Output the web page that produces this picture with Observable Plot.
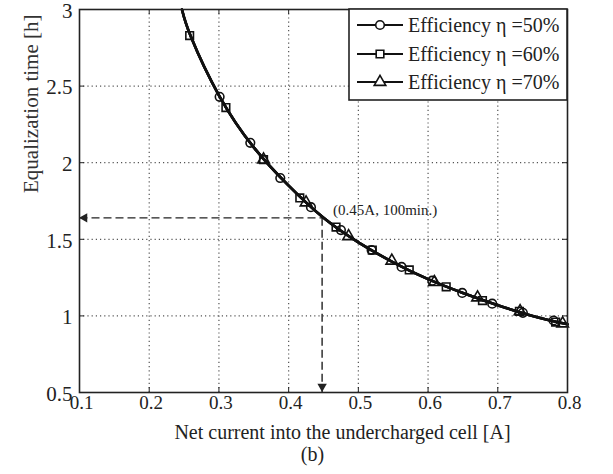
<!DOCTYPE html>
<html><head><meta charset="utf-8">
<script src="https://cdn.jsdelivr.net/npm/d3@7"></script>
<script src="https://cdn.jsdelivr.net/npm/@observablehq/plot@0.6"></script>
<style>
body{margin:0;background:#fff}
svg{font-family:"Liberation Serif","Times New Roman",serif}
</style>
</head><body><div id="chart"></div>
<script>
// ---- data ----
const xTicks = [0.1, 0.2, 0.3, 0.4, 0.5, 0.6, 0.7, 0.8];
const yTicks = [0.5, 1, 1.5, 2, 2.5, 3];
const xGrid = [0.2, 0.3, 0.4, 0.5, 0.6, 0.7];
const yGrid = [1, 1.5, 2, 2.5];
const seriesNames = ["Efficiency \u03b7 =50%", "Efficiency \u03b7 =60%", "Efficiency \u03b7 =70%"];
const seriesSymbols = ["circle", "square", "triangle"];

// curve (all three coincide)
const curveI = [0.247, 0.26, 0.30, 0.35, 0.40, 0.45, 0.50, 0.55, 0.60, 0.65, 0.70, 0.75, 0.80];
const curveT = [3.00, 2.82, 2.44, 2.10, 1.85, 1.64, 1.48, 1.35, 1.24, 1.15, 1.07, 1.00, 0.945];

// markers
const eff50I = [0.301, 0.345, 0.388, 0.432, 0.475, 0.519, 0.562, 0.606, 0.649, 0.692, 0.736, 0.78];
const eff50T = [2.43, 2.13, 1.90, 1.71, 1.56, 1.43, 1.32, 1.23, 1.15, 1.08, 1.02, 0.97];
const eff60I = [0.258, 0.31, 0.364, 0.416, 0.468, 0.52, 0.573, 0.626, 0.678, 0.731, 0.783];
const eff60T = [2.83, 2.36, 2.02, 1.77, 1.58, 1.43, 1.30, 1.19, 1.10, 1.03, 0.96];
const eff70I = [0.364, 0.425, 0.486, 0.548, 0.609, 0.671, 0.732, 0.793];
const eff70T = [2.02, 1.74, 1.52, 1.36, 1.22, 1.12, 1.03, 0.95];

const opI = 0.448, opT = 1.64;
const opLabel = "(0.45A, 100min.)";
const xLabel = "Net current into the undercharged cell [A]";
const yLabel = "Equalization time [h]";
const caption = "(b)";

// ---- tables ----
const markerSets = [[eff50I, eff50T], [eff60I, eff60T], [eff70I, eff70T]];
const lineTable = seriesNames.flatMap(s => curveI.map((I, i) => ({series: s, I, t: curveT[i]})));
const markerTables = markerSets.map(([xs, ys], k) => xs.map((I, i) => ({series: seriesNames[k], I, t: ys[i]})));

const W = 613, H = 474, mL = 79, mR = 46, mT = 9, mB = 82;
const pw = W - mL - mR, ph = H - mT - mB;
const font = "\"Liberation Serif\",\"Times New Roman\",serif";

const chart = Plot.plot({
  width: W, height: H,
  marginLeft: mL, marginRight: mR, marginTop: mT, marginBottom: mB,
  style: {fontFamily: font, background: "#fff", color: "#222"},
  x: {domain: [0.1, 0.8], axis: null},
  y: {domain: [0.5, 3], axis: null},
  marks: [
    Plot.ruleX(xGrid, {stroke: "#555", strokeDasharray: "1.2,3", strokeWidth: 1.2}),
    Plot.ruleY(yGrid, {stroke: "#555", strokeDasharray: "1.2,3", strokeWidth: 1.2}),
    // inward ticks
    Plot.tickX(xTicks, {x: d => d, insetTop: ph - 5, stroke: "#222"}),
    Plot.tickX(xTicks, {x: d => d, insetBottom: ph - 5, stroke: "#222"}),
    Plot.tickY(yTicks, {y: d => d, insetRight: pw - 5, stroke: "#222"}),
    Plot.tickY(yTicks, {y: d => d, insetLeft: pw - 5, stroke: "#222"}),
    // dashed guides
    Plot.link([{x1: 0.1, y1: opT, x2: opI, y2: opT}, {x1: opI, y1: opT, x2: opI, y2: 0.5}],
      {x1: "x1", y1: "y1", x2: "x2", y2: "y2", stroke: "#222", strokeWidth: 1.4, strokeDasharray: "8,4"}),
    Plot.dot([{I: 0.1, t: opT}], {x: "I", y: "t", symbol: "triangle", rotate: -90, r: 3.5, fill: "#222", stroke: "none", dx: 5}),
    Plot.dot([{I: opI, t: 0.5}], {x: "I", y: "t", symbol: "triangle", rotate: 180, r: 3.5, fill: "#222", stroke: "none", dy: -6}),
    // curves
    Plot.line(lineTable, {x: "I", y: "t", z: "series", stroke: "#111", strokeWidth: 2.6, curve: "natural"}),
    ...markerTables.map((tbl, k) => Plot.dot(tbl, {x: "I", y: "t", symbol: seriesSymbols[k], r: 4.3, fill: "none", stroke: "#111", strokeWidth: 1.6})),
    Plot.text([{I: opI, t: opT, label: opLabel}], {x: "I", y: "t", text: "label", textAnchor: "start", dx: 11, dy: -8, fontSize: 15, fill: "#222"}),
    Plot.frame({stroke: "#222", strokeWidth: 1.6}),
    // tick labels
    Plot.text(xTicks, {x: d => d, text: d => String(d), frameAnchor: "bottom", dx: 2, dy: 16, fontSize: 19, fill: "#222"}),
    Plot.text(yTicks, {y: d => d, text: d => String(d), frameAnchor: "left", dx: -7, dy: 1.5, textAnchor: "end", fontSize: 21, fill: "#222"}),
    Plot.text([xLabel], {frameAnchor: "bottom", dx: 19, dy: 46, fontSize: 20, fill: "#222"}),
    Plot.text([caption], {frameAnchor: "bottom", dx: -11, dy: 68, fontSize: 20, fill: "#222"}),
    Plot.text([yLabel], {frameAnchor: "left", dx: -48, dy: -8, rotate: -90, fontSize: 21, fill: "#333"})
  ]
});
document.getElementById("chart").appendChild(chart);

// ---- legend inside the plot, top-right ----
const svg = d3.select(chart);
const lg = svg.append("g").attr("text-anchor", "start");
const lx0 = 349, ly0 = mT, lx1 = W - mR, ly1 = 100;
lg.append("rect").attr("x", lx0).attr("y", ly0).attr("width", lx1 - lx0).attr("height", ly1 - ly0)
  .attr("fill", "#fff").attr("stroke", "#222").attr("stroke-width", 1.6);
const rowY = [25, 54, 82];
const sym = {circle: d3.symbolCircle, square: d3.symbolSquare, triangle: d3.symbolTriangle};
seriesNames.forEach((name, i) => {
  const y = rowY[i];
  lg.append("line").attr("x1", 357).attr("x2", 403).attr("y1", y).attr("y2", y).attr("stroke", "#111").attr("stroke-width", 2.2);
  lg.append("path").attr("transform", `translate(380,${y})`)
    .attr("d", d3.symbol(sym[seriesSymbols[i]], Math.PI * 4.3 * 4.3)())
    .attr("fill", "#fff").attr("stroke", "#111").attr("stroke-width", 1.6);
  lg.append("text").attr("x", 408).attr("y", y).attr("dy", "0.35em").attr("font-size", 20)
    .attr("text-anchor", "start").attr("fill", "#222").style("font-family", font).text(name);
});
</script>
</body></html>
